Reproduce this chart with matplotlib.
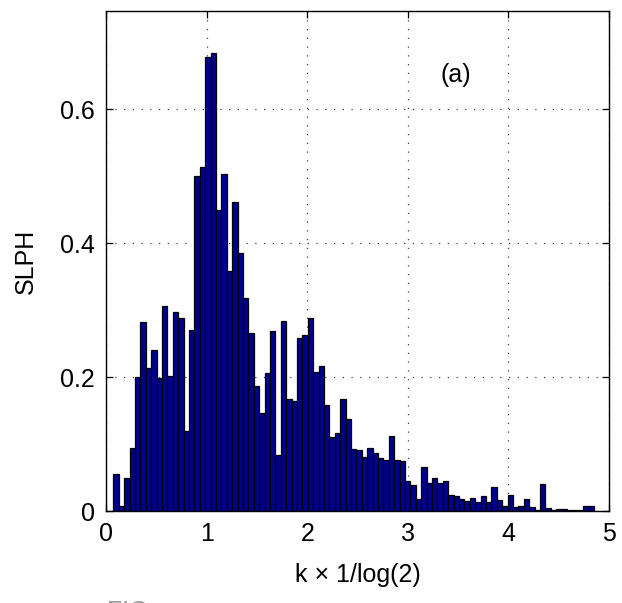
import numpy as np
import matplotlib
matplotlib.use("Agg")
import matplotlib.pyplot as plt

plt.rcParams['font.family'] = ['Liberation Sans', 'DejaVu Sans']

# Histogram data (bin heights)
slph = [0.056, 0.0075, 0.050, 0.094, 0.201, 0.283, 0.214, 0.240, 0.199, 0.306,
        0.2015, 0.297, 0.2885, 0.120, 0.2706, 0.501, 0.514, 0.678, 0.684, 0.449,
        0.504, 0.358, 0.461, 0.385, 0.318, 0.266, 0.187, 0.147, 0.206, 0.269,
        0.084, 0.2845, 0.1676, 0.165, 0.259, 0.263, 0.289, 0.208, 0.217, 0.1587,
        0.111, 0.117, 0.168, 0.138, 0.0925, 0.091, 0.081, 0.0945, 0.0866, 0.0796,
        0.0766, 0.1129, 0.077, 0.075, 0.045, 0.0397, 0.0188, 0.066, 0.0418, 0.050,
        0.042, 0.0455, 0.025, 0.023, 0.018, 0.0158, 0.020, 0.0139, 0.0228, 0.0139,
        0.0367, 0.0173, 0.0079, 0.0243, 0.006, 0.0075, 0.0188, 0.0064, 0.0024, 0.0412,
        0.0045, 0.0015, 0.003, 0.003, 0.0024, 0.0015, 0.0015, 0.008, 0.0075]
bin_start = 0.0726
bin_width = 0.0537
xticks = [0, 1, 2, 3, 4, 5]
yticks = [0, 0.2, 0.4, 0.6]
ytick_labels = ['0', '0.2', '0.4', '0.6']

edges = bin_start + bin_width * np.arange(len(slph))

fig = plt.figure(figsize=(6.22, 6.03), dpi=100)
ax = fig.add_axes([106/622, 1-511.3/603, (609-106)/622, (511.3-10.7)/603])

ax.bar(edges, slph, width=bin_width, align='edge', color='#00008F',
       edgecolor='black', linewidth=0.9, zorder=2)

ax.set_xlim(0, 5)
ax.set_ylim(0, 0.747)
ax.set_xticks(xticks)
ax.set_xticklabels([str(t) for t in xticks])
ax.set_yticks(yticks)
ax.set_yticklabels(ytick_labels)

ax.grid(True, linestyle=(0, (1, 6)), color='0.25', linewidth=0.9, zorder=1)
ax.set_axisbelow(True)

ax.tick_params(direction='in', length=5, width=0.9, top=True, right=True,
               labelsize=18, pad=8)
for s in ax.spines.values():
    s.set_linewidth(1.0)

ax.set_xlabel('k × 1/log(2)', fontsize=18, labelpad=12)
ax.set_ylabel('SLPH', fontsize=18, labelpad=16)

ax.text(3.48, 0.651, '(a)', fontsize=18, ha='center', va='center')

fig.text(107/622, 3/603, 'FIG', fontsize=18, color='0.6', ha='left', va='top')

fig.savefig('out.png', dpi=100)
